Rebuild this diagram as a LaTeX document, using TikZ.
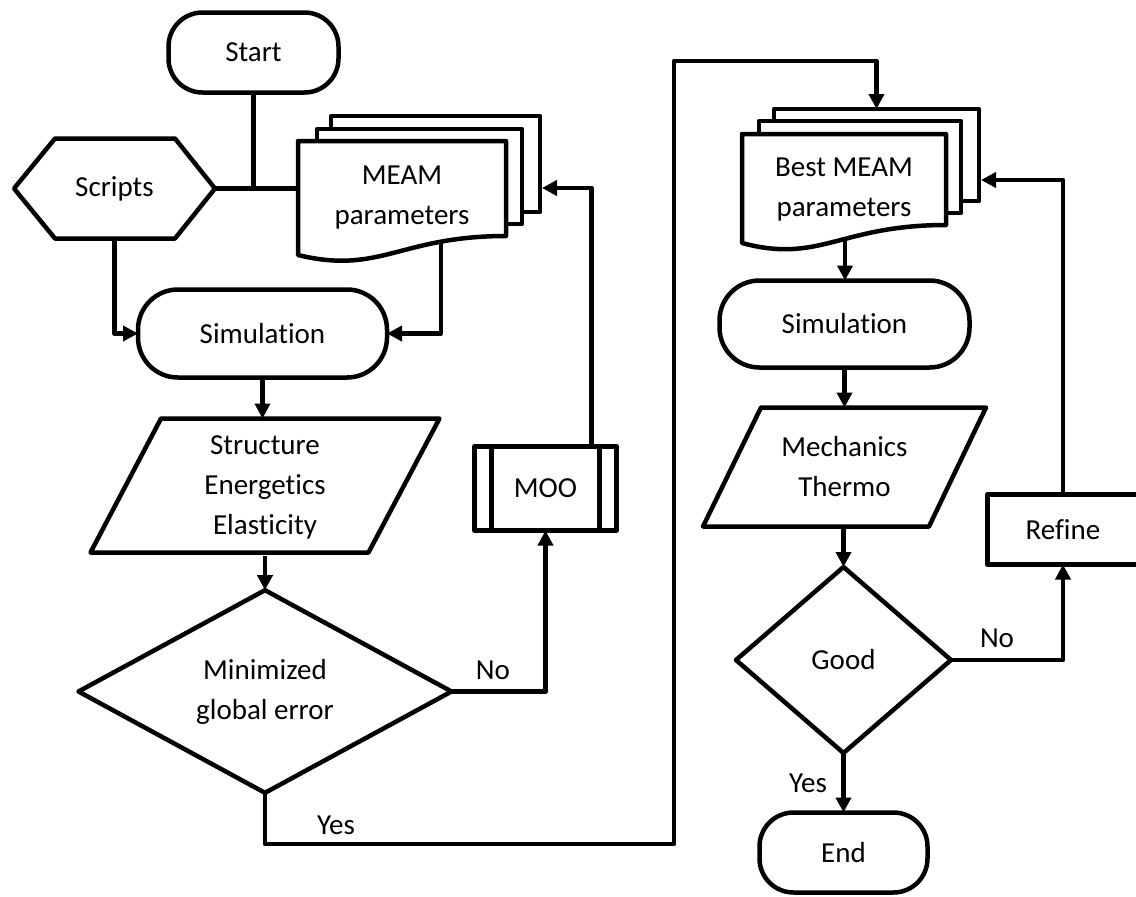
\documentclass[tikz,border=0pt]{standalone}
\usepackage{fontspec}
\setmainfont{Carlito}[Ligatures={NoCommon,NoContextual,NoRare}]
\usetikzlibrary{arrows.meta,shapes.geometric,calc}
\begin{document}
\begin{tikzpicture}[x=1pt,y=-1pt,
  every node/.style={font=\fontsize{29}{40}\selectfont, inner sep=0pt, outer sep=0pt},
  thickline/.style={line width=4.5pt, line join=round},
  flow/.style={thickline, -{Triangle[length=15pt,width=15pt]}},
  terminal/.style={draw, thickline, rectangle, rounded corners=36pt},
  procbox/.style={draw, thickline, rectangle},
  decision/.style={draw, thickline, diamond, aspect=1, align=center},
  sheet/.style={draw, thickline, fill=white, rectangle},
  area/.style={rectangle, align=center}
]
\useasboundingbox (0,0) rectangle (1136,897);

% ---- left column: calibration loop ----
\node[terminal, minimum width=170pt, minimum height=80pt, rounded corners=34pt] (start) at (253.5,52.5) {Start};

% scripts (hexagon)
\draw[thickline] (14,188.5) -- (55,138.5) -- (175,138.5) -- (215,188.5) -- (175,238.5) -- (55,238.5) -- cycle;
\node[area, minimum width=201pt, minimum height=100pt] (scripts) at (114.5,188.5) {Scripts};

% stacked parameter sheets
\node[sheet, minimum width=209pt, minimum height=96pt] (meamback) at (435.5,164) {};
\node[sheet, minimum width=205pt, minimum height=95pt] (meammid) at (419.5,176.5) {};
\draw[thickline, fill=white] (298,141) -- (506,141) -- (506,236) .. controls (400,236) and (380,275) .. (298,255) -- cycle;
\node[area, minimum width=208pt, minimum height=114pt] (meam) at (402,198) {MEAM\\parameters};
\coordinate (meamout) at (441,242);
\coordinate (meamin) at (542,188);

\coordinate (join) at (start.south |- scripts.east);
\draw[thickline] (start.south) -- (join);
\draw[thickline] (scripts.east) -- (meam.west |- scripts.east);

\node[terminal, minimum width=249pt, minimum height=88pt, rounded corners=40pt] (sim) at (262.5,333.5) {Simulation};
\draw[flow] (scripts.south) |- (sim.west);
\draw[flow] (meamout) |- (sim.east);

% computed properties (parallelogram)
\draw[thickline] (161,418.5) -- (439.5,418.5) -- (368.5,552.5) -- (90.5,552.5) -- cycle;
\node[area, minimum width=278pt, minimum height=137pt] (props) at (265,487) {Structure\\Energetics\\Elasticity};
\draw[flow] (sim.south) -- (sim.south |- props.north);

\node[decision, minimum width=373pt, minimum height=199pt] (dmin) at (265,691.5) {Minimized\\global error};
\draw[flow] (props.south) -- (dmin.north);

% optimiser (predefined process)
\node[procbox, minimum width=142pt, minimum height=84pt] (moo) at (545.5,488.5) {MOO};
\draw[thickline] ([xshift=17pt]moo.north west) -- ([xshift=17pt]moo.south west);
\draw[thickline] ([xshift=-17pt]moo.north east) -- ([xshift=-17pt]moo.south east);
\draw[flow] (dmin.east) -| (moo.south);
\node (nomin) at (493,670) {No};
\draw[flow] ([xshift=-25pt]moo.north east) |- (meamin);

% ---- right column: validation ----
\node[sheet, minimum width=205pt, minimum height=92pt] (bmback) at (876.5,155) {};
\node[sheet, minimum width=202pt, minimum height=92pt] (bmmid) at (860,167) {};
\draw[thickline, fill=white] (742,134) -- (946,134) -- (946,225) .. controls (840,225) and (820,264) .. (742,243) -- cycle;
\node[area, minimum width=204pt, minimum height=110pt] (bm) at (844,190) {Best MEAM\\parameters};
\coordinate (bmout) at (845,239);
\coordinate (bmin) at (981,180);

\coordinate (ybot) at (674,844);
\coordinate (ytop) at (674,61);
\draw[flow] (dmin.south) |- (ybot) -- (ytop) -| (bmback.north);
\node (yesmin) at (336,825) {Yes};

\node[terminal, minimum width=250pt, minimum height=87pt, rounded corners=40pt] (sim2) at (844.5,324) {Simulation};
\draw[flow] (bmout) -- (bmout |- sim2.north);

\draw[thickline] (761,407.5) -- (986,407.5) -- (929,526.5) -- (703,526.5) -- cycle;
\node[area, minimum width=226pt, minimum height=119pt] (mech) at (844.5,467) {Mechanics\\Thermo};
\draw[flow] (sim2.south) -- (sim2.south |- mech.north);

\node[decision, minimum width=215pt, minimum height=186pt] (good) at (843.5,660) {Good};
\draw[flow] (good.north |- mech.south) -- (good.north);

\node[terminal, minimum width=168pt, minimum height=80pt, rounded corners=34pt] (stop) at (843.5,852.5) {End};
\draw[flow] (good.south) -- (stop.north);
\node (yesgood) at (808,783) {Yes};

\node[procbox, minimum width=151pt, minimum height=70pt] (refine) at (1063,529.5) {Refine};
\draw[flow] (good.east) -| (refine.south);
\node (nogood) at (997,638) {No};
\draw[flow] (refine.north) |- (bmin);
\end{tikzpicture}
\end{document}
